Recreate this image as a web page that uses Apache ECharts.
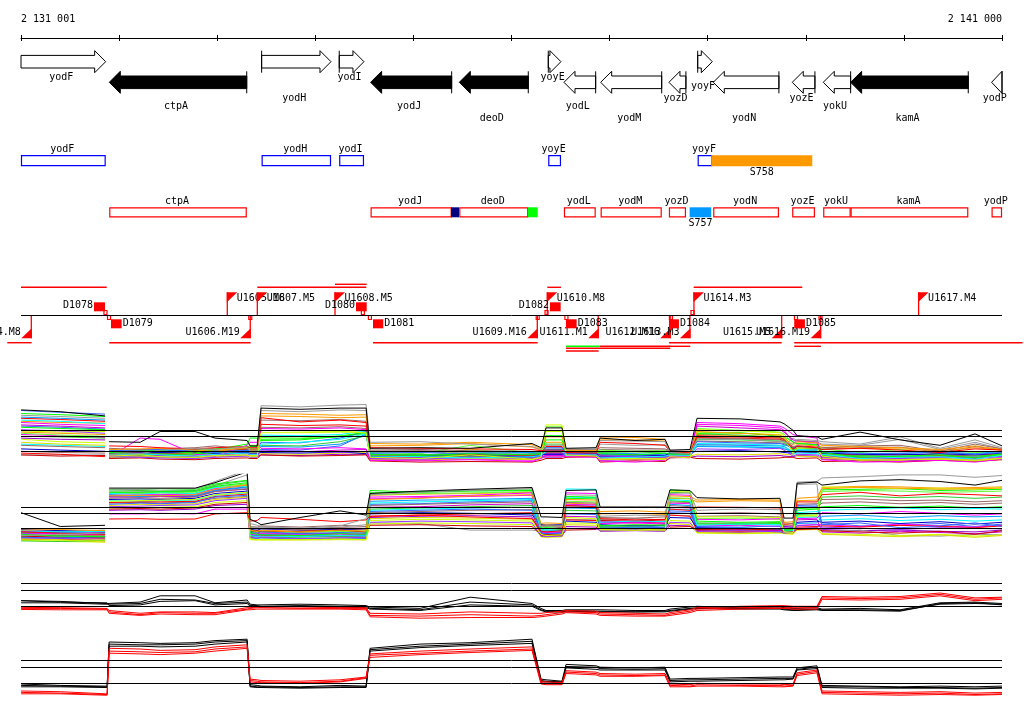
<!DOCTYPE html>
<html><head><meta charset="utf-8">
<script src="https://cdn.jsdelivr.net/npm/echarts@6/dist/echarts.min.js"></script>
<style>html,body{margin:0;padding:0;background:#fff}#c{width:1024px;height:714px}</style>
</head><body><div id="c"></div>
<script>
// ================= DATA =================
const regionStart = 2131000, regionEnd = 2141000, rulerStep = 1000;
const rulerLabels = ['2 131 001', '2 141 000'];

// genes (annotation)
const geneNames  = ['yodF','ctpA','yodH','yodI','yodJ','deoD','yoyE','yodL','yodM','yozD','yoyF','yodN','yozE','yokU','kamA','yodP'];
const geneStart  = [2131000,2131900,2133453,2134244,2134564,2135468,2136375,2136535,2136909,2137605,2137898,2138057,2138862,2139178,2139457,2140894];
const geneEnd    = [2131863,2133301,2134160,2134496,2135390,2136171,2136504,2136858,2137531,2137778,2138047,2138726,2139093,2139457,2140656,2141000];
const geneStrand = [1,-1,1,1,-1,-1,1,-1,-1,-1,1,-1,-1,-1,-1,-1];
const geneClass  = ['o','e','o','o','e','e','o','o','o','o','o','o','o','o','e','o'];

// other features in the box track
const featNames  = ['S758','S757','',''];
const featStart  = [2138036,2137816,2135383,2136168];
const featEnd    = [2139066,2138036,2135465,2136267];
const featStrand = [1,-1,-1,-1];

// probe track
const flagNames = ['U1605.M8','U1607.M5','U1608.M5','U1610.M8','U1614.M3','U1617.M4','U1604.M8','U1606.M19','U1609.M16','U1611.M1','U1612.M16','U1613.M3','U1615.M5','U1616.M19'];
const flagPos   = [2133103,2133409,2134201,2136365,2137860,2140150,2131105,2133337,2136263,2136884,2137618,2137819,2138754,2139151];
const flagSide  = [1,1,1,1,1,1,-1,-1,-1,-1,-1,-1,-1,-1];

const dNames = ['D1078','D1079','D1080','D1081','D1082','D1083','D1084','D1085'];
const dStart = [2131744,2131917,2134415,2134588,2136392,2136555,2137605,2138882];
const dEnd   = [2131856,2132026,2134524,2134693,2136501,2136664,2137707,2138991];
const dSide  = [1,-1,1,-1,1,-1,-1,-1];

const linkPos  = [2131861,2131897,2133337,2134485,2134557,2136267,2136357,2136560,2137625,2137845,2138900,2139150];
const linkSide = [1,-1,-1,1,-1,-1,1,-1,-1,1,-1,-1];

const segStart = [2131000,2133409,2136365,2137857,2134201,2130860,2131900,2134588,2137605,2138882,2136555,2136902,2138882,2136555,2136555,2137605];
const segEnd   = [2131874,2134520,2136504,2138964,2134524,2131109,2133341,2136267,2138754,2141210,2136902,2137618,2139154,2137618,2136888,2137822];
const segSide  = [1,1,1,1,1,-1,-1,-1,-1,-1,-1,-1,-1,-1,-1,-1];
const segLevel = [0,0,0,0,1,0,0,0,0,0,1,1,1,2,3,1];
const segKind  = ['r','r','r','r','r','r','r','r','r','r','g','r','r','r','r','r'];

// expression profiles: positions
const profilePos = [2131001,2131400,2131857,2131878,2131898,2132214,2132418,2132775,2132978,2133305,2133335,2133407,2133447,2133845,2134253,2134518,2134558,2135068,2135578,2136209,2136301,2136352,2136515,2136556,2136862,2136903,2137260,2137565,2137616,2137820,2137891,2138330,2138737,2138778,2138870,2138911,2139114,2139165,2139553,2139961,2140368,2140725,2141000];

// top strand, individual hybridisations
const topStrand = [
[6.9,6.6,5.9,null,1.6,1.5,3.3,3.3,2.2,1.8,0.9,0.9,7.2,7.0,7.2,7.2,0.5,0.6,0.5,1.3,0.6,3.9,3.9,0.5,0.6,2.2,1.8,2.0,0.2,0.3,5.5,5.4,4.9,4.6,3.5,2.6,2.4,2.0,3.2,1.9,1.0,2.9,0.9],
[6.0,5.8,5.5,null,-0.5,-0.4,0.2,0.5,0.3,0.8,0.0,0.0,7.6,7.4,7.7,7.8,1.5,1.6,1.2,0.8,0.3,1.0,1.0,0.4,0.4,1.8,1.7,1.6,-0.2,-0.4,1.9,2.0,1.6,1.6,1.2,2.0,1.8,1.6,1.2,2.4,0.5,1.9,0.6],
[-0.3,-0.5,-0.9,null,0.9,0.8,0.6,0.4,0.6,0.8,0.6,0.6,5.6,4.9,5.2,4.8,0.6,0.5,0.4,0.3,0.1,0.2,0.2,-0.2,-0.3,1.5,1.3,1.0,0.0,-0.3,2.6,2.4,2.2,2.0,0.4,0.8,0.6,0.3,0.5,0.2,-0.2,0.4,0.2],
[3.2,3.0,2.8,null,0.3,0.4,0.5,0.2,0.0,0.6,0.2,0.2,6.3,6.2,6.0,6.1,1.3,1.2,1.5,1.1,0.4,2.4,2.4,0.2,0.1,2.4,2.3,2.0,-0.1,-0.2,3.3,3.0,2.7,2.3,1.0,1.6,1.4,1.0,0.8,0.6,0.3,0.9,0.3],
[2.0,1.6,1.4,null,-0.8,-0.6,-0.9,-1.0,-0.7,-0.6,-0.9,-0.9,3.1,3.1,3.2,3.1,-1.0,-1.2,-0.6,-1.3,-1.0,4.4,4.4,-0.6,-0.8,-1.3,-1.2,-1.4,-0.9,-1.1,3.6,3.4,3.1,2.6,-0.4,0.5,0.6,-0.8,-1.5,-1.4,-1.3,-1.6,-1.2],
[4.0,3.8,3.6,null,-0.2,0.0,0.1,-0.3,0.3,1.2,2.2,2.2,1.8,1.9,2.5,3.2,-0.5,-0.7,-0.4,-0.6,-0.3,1.9,1.9,-0.1,0.0,-0.4,-0.6,-0.3,-0.5,-0.4,3.0,3.1,2.5,2.4,1.6,1.3,1.1,-0.2,-1.0,-0.8,-0.6,-1.1,-0.4],
[5.2,5.0,4.6,null,-0.6,-0.4,-0.6,-0.8,-0.5,-0.3,-0.5,-0.5,1.2,1.5,2.0,2.9,-0.8,-0.9,-1.1,-0.9,-0.7,0.0,0.0,-0.7,-0.6,-1.1,-1.0,-0.8,-0.6,-0.7,1.3,1.2,1.0,0.9,-0.2,0.3,0.2,-0.5,-1.2,-1.0,-0.9,-1.3,-0.7],
[6.8,6.5,6.2,null,0.1,0.2,0.3,0.0,-0.2,0.2,0.0,0.0,1.5,1.4,2.2,3.3,-0.3,-0.2,-0.4,-0.5,-0.2,0.6,0.6,-0.4,-0.3,-0.5,-0.7,-0.4,-0.3,-0.2,1.6,1.4,1.3,1.1,0.6,0.9,0.5,0.0,-0.4,-0.3,-0.2,-0.5,-0.2],
[4.8,4.5,4.3,null,-1.0,2.2,2.0,-0.5,-0.8,1.0,1.5,1.5,0.5,0.4,0.6,0.4,-1.5,-1.6,-1.4,-1.7,-1.2,-0.8,-0.8,-0.9,-1.0,-1.6,-1.8,-1.5,-1.0,-1.1,4.8,4.6,4.2,3.9,2.8,2.6,2.2,-1.4,-1.8,-1.7,-1.5,-1.8,-1.3],
[1.0,0.8,0.6,null,0.5,0.3,0.4,0.6,0.9,0.4,0.3,0.3,5.2,5.1,5.3,5.0,0.2,0.3,0.1,0.0,-0.1,-0.2,-0.2,0.3,0.2,0.6,0.5,0.4,0.1,0.0,2.2,2.1,1.9,1.7,0.8,0.4,0.3,0.6,0.9,1.0,0.0,1.2,0.4],
[3.6,3.4,3.0,null,-0.9,-1.0,-1.1,-1.2,-1.0,-0.8,-1.0,-1.0,0.2,0.0,-0.2,0.0,-1.2,-1.3,-1.0,-1.1,-0.9,-1.0,-1.0,-0.5,-0.6,-0.8,-0.9,-1.0,-0.8,-0.7,0.4,0.3,0.5,0.2,-0.8,-0.5,-0.6,-1.0,-1.1,-1.2,-1.0,-1.0,-0.9],
[2.5,2.4,2.2,null,-0.3,-0.5,-0.4,-0.6,-0.2,0.0,0.4,0.4,1.0,0.9,1.6,2.6,-0.6,-0.5,-0.8,-0.4,-0.5,1.2,1.2,0.0,-0.2,-0.2,-0.1,-0.3,-0.4,-0.5,2.9,2.7,2.3,2.0,0.3,0.0,-0.1,-0.6,-0.7,-0.9,-0.8,-0.8,-0.5],
[-0.6,-0.8,-0.7,null,-1.2,-1.1,-1.3,-1.4,-1.2,-1.1,-1.2,-1.2,-0.6,-0.8,-0.7,-0.6,-1.6,-1.8,-1.7,-1.8,-1.5,-1.2,-1.2,-1.0,-0.9,-1.8,-1.6,-1.7,-1.1,-1.0,-1.2,-1.3,-1.1,-1.0,-1.0,-1.2,-1.1,-1.7,-1.6,-1.8,-1.5,-1.7,-1.4],
[0.4,0.2,0.0,null,-0.4,-0.3,-0.2,-0.1,-0.4,-0.2,-0.3,-0.3,-0.2,-0.3,-0.1,-0.4,-0.9,-0.8,-0.7,-0.9,-0.6,-0.5,-0.5,-0.3,-0.4,-0.9,-0.8,-0.7,-0.3,-0.2,0.0,0.1,-0.1,-0.2,-0.3,-0.1,-0.2,-0.3,-0.5,-0.6,-0.4,-0.6,-0.3],
[5.7,5.5,5.2,null,0.0,-0.1,0.1,0.2,0.1,0.0,0.1,0.1,0.8,0.7,1.2,2.7,-0.4,-0.6,-0.3,-0.2,-0.4,0.3,0.3,-0.2,-0.1,-0.3,-0.4,-0.6,-0.2,-0.3,0.8,0.7,0.6,0.4,0.0,0.2,0.0,-0.2,-0.3,-0.4,-0.1,-0.4,0.0],
[1.5,1.2,1.0,null,-1.1,-0.9,-1.0,-1.1,-0.9,-0.7,-0.7,-0.7,-0.4,-0.5,-0.3,-0.2,-1.4,-1.5,-1.2,-1.4,-1.1,-0.9,-0.9,-0.8,-0.9,-1.4,-1.3,-1.2,-0.7,-0.8,-0.5,-0.6,-0.4,-0.5,-0.6,-0.8,-0.9,-1.2,-1.4,-1.5,-1.2,-1.5,-1.1],
[4.4,4.2,3.9,null,-0.7,-0.8,-0.7,-0.9,-0.6,-0.4,-0.6,-0.6,0.0,-0.1,0.2,0.3,-1.1,-1.0,-0.9,-1.0,-0.8,-0.4,-0.4,-0.5,-0.7,-1.0,-1.1,-0.9,-0.6,-0.5,4.2,3.9,3.6,3.2,1.9,1.7,1.5,-0.9,-1.0,-1.1,-0.9,-1.2,-0.8],
[3.0,2.7,2.5,null,-0.1,0.1,0.0,0.1,0.4,0.6,1.0,1.0,2.3,2.2,2.6,3.0,-0.2,-0.4,1.0,-0.3,-0.1,4.1,4.1,0.1,0.0,0.2,0.0,0.1,-0.2,-0.3,3.8,3.5,3.2,2.9,1.3,1.4,1.0,0.4,-0.2,0.3,-0.5,-0.2,-0.1],
[5.5,5.3,5.0,null,-0.3,-0.2,-0.4,-0.2,0.0,0.3,0.1,0.1,4.5,4.3,4.4,4.2,-0.7,-0.6,-0.5,-0.7,-0.4,0.8,0.8,-0.3,-0.4,-0.6,-0.5,-0.7,-0.4,-0.5,2.3,2.2,2.0,1.8,0.5,0.9,0.7,-0.4,-0.6,-0.5,-0.7,-0.6,-0.5],
[6.3,6.1,5.8,null,-0.5,-0.7,-0.6,-0.4,-0.3,0.5,0.8,0.8,2.0,2.1,2.4,3.0,-0.9,-1.0,-0.8,-1.0,-0.8,2.6,2.6,-0.4,-0.5,-0.9,-0.8,-1.1,-0.5,-0.6,2.0,1.9,1.7,1.5,0.2,0.6,0.4,-0.7,-0.9,-1.1,-0.8,-1.0,-0.6],
[2.8,2.6,2.3,null,-0.6,-0.3,-0.5,-0.7,-0.4,-0.2,-0.4,-0.4,3.8,3.7,3.9,3.6,-1.3,-1.4,-1.3,-1.5,-1.1,-0.6,-0.6,-0.8,-0.7,-1.2,-1.4,-1.3,-0.8,-0.9,4.5,4.3,3.9,3.5,1.5,1.3,1.2,-1.2,-1.3,-1.4,-1.2,-1.5,-1.0],
[1.2,1.0,0.8,null,-0.9,-0.8,-0.8,-1.0,-0.8,-0.6,-0.8,-0.8,2.7,2.6,2.8,3.4,-1.0,-1.1,-1.2,-1.0,-0.9,-0.3,-0.3,-0.9,-0.8,-1.0,-1.2,-0.9,-0.7,-0.8,0.9,0.8,0.7,0.6,-0.5,-0.3,-0.4,-0.8,-1.1,-0.9,-1.1,-1.2,-0.8],
[4.2,4.0,3.7,null,-0.2,-0.1,-0.3,-0.2,-0.1,0.1,0.0,0.0,0.3,0.2,0.9,2.9,-0.5,-0.7,-0.6,-0.8,-0.4,0.1,0.1,-0.2,-0.3,-0.7,-0.6,-0.8,-0.4,-0.3,1.1,1.0,0.9,0.8,-0.1,0.1,0.0,-0.4,-0.7,-0.6,-0.5,-0.8,-0.4],
[5.0,4.8,4.7,null,0.2,0.1,0.3,0.4,0.2,0.5,0.4,0.4,5.9,5.8,5.6,5.7,0.9,1.0,1.3,0.7,0.2,1.5,1.5,0.0,-0.1,1.9,1.9,1.7,-0.3,-0.3,2.8,2.6,2.4,2.1,0.7,1.1,0.9,0.7,0.5,0.4,0.1,0.6,0.2],
[3.4,3.2,3.3,null,-0.4,-0.3,-0.2,-0.5,-0.3,-0.1,-0.2,-0.2,3.5,3.4,3.3,3.4,-0.8,-1.0,0.4,-0.9,-0.7,3.3,3.3,-0.3,-0.5,-0.9,-0.7,-0.8,-0.6,-0.6,3.2,3.0,2.8,2.4,0.0,0.3,0.4,-1.0,-1.3,-1.2,-1.4,-1.4,-1.3],
[-0.6,-0.6,-0.6,null,-0.7,-0.6,-0.5,-0.6,-0.5,-0.3,-0.4,-0.4,6.8,6.6,6.9,6.8,-0.2,-0.1,-0.3,-0.2,-0.1,0.4,0.4,0.2,0.3,1.2,1.0,1.1,-0.1,-0.2,1.0,1.2,1.0,0.9,2.2,1.8,1.6,1.2,1.0,2.0,0.3,1.5,0.4],
[0.0,-0.2,-0.3,null,0.2,0.0,0.1,0.3,0.5,0.2,0.1,0.1,4.0,3.9,4.1,3.8,0.0,0.1,-0.1,-0.2,-0.3,-0.4,-0.4,0.1,0.0,0.3,0.2,0.2,0.0,-0.1,1.7,1.6,1.4,1.3,0.6,0.2,0.1,0.4,0.6,0.7,-0.2,0.8,0.2],
[2.2,2.0,1.9,null,-1.0,-0.9,-1.0,-1.1,-0.9,-0.7,-0.9,-0.9,-0.6,-0.7,-0.5,-0.5,-1.3,-1.5,-1.1,-1.2,-1.0,-0.7,-0.7,-0.6,-0.8,-1.5,-1.4,-1.3,-0.9,-1.0,-0.8,-0.9,-0.7,-0.8,-0.9,-0.7,-0.8,-1.3,-1.5,-1.6,-1.4,-1.6,-1.2]
];

// bottom strand, individual hybridisations
const bottomStrand = [
[2.6,0.3,0.5,null,6.7,6.7,6.7,6.7,7.6,9.4,1.5,1.0,0.6,1.8,2.9,2.2,5.8,6.2,6.5,6.8,1.9,1.9,1.8,6.3,6.4,3.55,3.55,3.55,6.4,6.3,5.1,4.9,5.0,1.7,1.7,7.5,7.7,7.2,7.9,8.1,7.8,7.2,8.0],
[-1.2,-1.0,-0.8,null,6.4,6.5,6.6,6.6,7.8,9.7,0.8,0.5,0.3,0.0,0.4,1.6,5.6,6.0,6.3,6.6,0.2,0.4,0.3,5.6,5.5,2.0,2.2,2.1,5.8,5.9,3.0,3.2,3.1,0.5,0.4,7.7,7.8,8.4,8.6,8.9,8.9,8.5,8.8],
[-0.6,-0.8,-1.0,null,1.55,1.6,1.5,1.55,2.4,2.6,1.2,1.3,1.8,1.5,1.1,1.4,2.0,2.2,1.9,1.6,-0.5,-0.6,-0.4,3.8,3.6,1.6,1.4,1.5,3.2,3.0,3.55,3.5,3.4,0.6,0.5,4.4,4.4,5.6,6.0,5.4,5.8,5.6,5.4],
[-0.3,-0.2,-0.4,null,5.4,5.5,5.4,5.6,6.5,7.2,-0.3,-0.5,-0.4,-0.6,-0.3,-0.5,4.8,5.0,5.4,5.6,0.8,0.9,0.8,4.8,4.7,2.4,2.5,2.3,5.4,5.3,4.7,4.8,4.7,1.0,1.1,5.0,5.2,6.6,6.8,6.7,6.5,6.6,6.7],
[-1.9,-2.0,-1.95,null,4.5,4.6,4.7,4.8,5.6,6.0,-1.8,-1.9,-1.95,-1.9,-1.8,-1.9,1.3,1.5,1.4,1.2,-1.0,-1.2,-1.1,1.8,1.6,-0.2,-0.1,-0.3,6.2,6.0,1.9,1.9,1.8,-0.6,-0.7,2.0,2.2,6.9,6.8,6.6,6.7,6.5,6.8],
[-1.0,-1.3,-1.4,null,6.0,6.0,6.1,6.1,7.0,7.6,-0.8,-1.0,-1.1,-1.2,-0.9,-1.0,6.3,6.0,6.2,6.3,0.0,0.1,-0.1,5.0,4.9,0.4,0.6,0.5,6.4,6.2,1.2,1.0,1.1,-0.3,-0.2,3.0,3.2,6.4,6.5,6.6,6.3,6.4,6.5],
[-0.4,-0.6,-0.5,null,5.8,5.7,5.9,5.8,6.8,7.0,-1.2,-1.4,-1.3,-1.4,-1.2,-1.3,4.2,4.4,4.6,4.8,-0.3,-0.2,-0.4,6.55,6.5,1.0,1.2,1.1,4.8,4.6,0.5,0.7,0.6,-0.5,-0.4,2.6,2.8,3.0,3.2,3.4,3.1,3.3,3.2],
[-1.5,-1.6,-1.4,null,4.0,4.2,4.1,4.3,5.2,5.5,-0.7,-0.8,-0.6,-0.9,-0.7,-0.8,2.8,3.0,3.2,3.0,-0.8,-0.9,-0.8,2.4,2.3,0.0,0.2,0.1,2.6,2.5,0.3,0.2,0.4,-0.1,0.0,3.55,3.6,0.6,0.9,0.1,0.4,0.9,0.3],
[-0.8,-0.9,-1.1,null,2.4,2.4,2.5,2.4,3.2,3.2,-1.0,-1.1,-0.9,-1.0,-1.1,-0.9,5.2,5.3,5.5,5.9,-0.6,-0.7,-0.6,5.9,5.8,0.8,0.9,0.7,5.6,5.5,1.5,1.4,1.6,0.2,0.3,1.6,1.7,2.6,2.4,2.8,2.5,2.2,2.4],
[-1.1,-1.2,-1.3,null,5.0,5.1,5.0,5.2,6.1,6.6,0.1,-0.1,0.0,-0.2,0.1,0.0,3.8,4.0,4.2,4.4,0.4,0.5,0.3,4.3,4.2,1.8,1.7,1.9,4.4,4.3,2.5,2.6,2.4,0.9,0.8,4.0,4.1,4.8,4.9,4.6,4.7,4.4,4.6],
[-1.6,-1.7,-1.8,null,3.6,3.7,3.8,3.9,4.6,5.0,-1.5,-1.6,-1.5,-1.7,-1.6,-1.5,1.0,1.2,1.1,0.9,-1.3,-1.4,-1.3,0.0,-0.1,-0.3,-0.2,-0.3,1.0,0.9,-0.5,-0.4,-0.6,-0.8,-0.7,0.4,0.6,0.2,0.0,-0.2,0.1,0.0,-0.1],
[-2.1,-2.2,-2.0,null,6.2,6.3,6.2,6.3,7.2,7.9,-1.4,-1.5,-1.6,-1.5,-1.4,-1.5,3.2,3.4,3.6,3.8,-0.2,-0.1,-0.2,3.0,2.9,0.2,0.3,0.1,6.0,5.9,0.9,0.8,1.0,-0.2,-0.3,2.3,2.4,5.2,5.4,5.1,5.3,5.0,5.2],
[-1.3,-1.5,-1.6,null,3.2,3.3,3.2,3.4,4.0,4.3,-0.5,-0.4,-0.6,-0.5,-0.3,-0.6,0.5,0.6,0.4,0.3,-1.1,-1.0,-1.2,-0.3,-0.2,1.3,1.2,1.4,0.2,0.3,-0.2,-0.3,-0.1,-0.6,-0.5,-0.2,-0.1,-0.4,-0.6,-0.8,-0.5,-1.0,-0.4],
[-0.2,-0.4,-0.6,null,4.8,4.9,4.8,5.0,5.8,6.2,-0.2,-0.3,-0.1,-0.3,-0.2,-0.1,2.4,2.6,2.5,2.2,0.6,0.5,0.6,1.2,1.0,0.6,0.4,0.5,1.8,1.7,0.1,0.0,-0.1,0.3,0.2,1.0,1.2,1.0,1.2,0.8,1.1,0.7,1.0],
[-0.9,-0.7,-0.9,null,5.6,5.3,5.5,5.4,6.3,6.8,-1.1,-1.2,-1.0,-1.1,-1.3,-1.2,4.5,4.7,4.8,5.0,-0.4,-0.5,-0.3,3.4,3.3,-0.1,0.0,0.1,4.0,3.8,0.0,0.1,-0.2,-0.4,-0.3,0.8,0.9,2.0,2.2,1.8,2.1,1.9,2.0],
[-1.7,-1.9,-2.3,null,3.8,4.0,3.9,4.1,4.8,5.2,-1.9,-1.95,-1.9,-1.95,-1.9,-1.95,1.6,1.8,1.7,1.5,-1.4,-1.45,-1.4,0.6,0.5,-0.2,-0.3,-0.2,0.8,0.6,-0.7,-0.8,-0.7,-0.8,-0.9,-0.3,-0.2,-1.0,-1.2,-1.4,-1.1,-1.5,-1.2],
[-0.5,-0.7,-0.8,null,5.2,5.2,5.3,5.3,6.2,6.5,-0.9,-0.8,-1.0,-0.8,-0.9,-1.0,3.5,3.6,3.9,4.1,-0.7,-0.8,-0.7,2.0,1.9,0.9,1.0,0.8,3.5,3.4,-0.3,-0.2,-0.4,-0.1,-0.2,1.4,1.5,-0.6,-0.8,-0.5,-0.7,-0.9,-0.6],
[-1.4,-1.1,-1.2,null,5.9,5.9,6.0,5.9,6.9,7.4,-0.6,-0.7,-0.8,-0.7,-0.5,-0.7,5.6,5.8,5.9,6.1,0.3,0.2,0.4,4.5,4.4,0.5,0.4,0.6,5.1,5.0,1.6,1.7,1.5,0.0,0.1,2.1,2.0,6.1,6.3,6.2,6.0,6.1,6.2],
[-1.8,-1.9,-2.0,null,4.3,4.4,4.4,4.5,5.3,5.7,-1.3,-1.4,-1.2,-1.3,-1.4,-1.3,2.0,2.2,2.4,2.6,-1.2,-1.3,-1.2,1.4,1.3,1.0,0.9,1.1,2.2,2.0,-0.4,-0.5,-0.4,-0.5,-0.6,0.2,0.3,0.4,0.2,0.5,0.3,0.1,0.4],
[-0.7,-0.9,-1.0,null,6.5,6.5,6.6,6.5,7.4,8.0,-0.4,-0.6,-0.5,-0.6,-0.4,-0.5,5.9,6.1,6.3,6.4,-0.9,-1.0,-0.9,5.3,5.2,0.1,0.0,0.2,4.6,4.4,0.7,0.6,0.8,-0.3,-0.4,3.3,3.4,3.6,3.8,3.5,3.7,3.4,3.6],
[-1.0,-1.2,-1.2,null,5.5,5.6,5.6,5.7,6.6,7.1,-1.3,-1.2,-1.4,-1.3,-1.2,-1.4,4.9,5.1,5.3,5.5,-1.0,-1.1,-1.0,4.0,3.9,1.1,1.2,1.0,4.2,4.1,0.4,0.5,0.3,-0.6,-0.5,0.5,0.6,0.6,0.3,0.7,0.4,0.2,0.5],
[-1.2,-1.3,-1.5,null,4.6,4.5,4.6,4.7,5.5,5.9,-0.9,-1.0,-1.1,-1.0,-0.9,-1.1,3.0,3.2,3.4,3.5,-1.1,-1.2,-1.1,5.2,5.1,0.0,0.1,-0.1,3.2,3.1,-0.4,-0.3,-0.5,-0.7,-0.6,1.8,1.9,1.4,1.6,1.3,1.5,1.2,1.4],
[-0.5,-0.4,-0.7,null,5.3,5.4,5.3,5.5,6.4,6.9,-1.6,-1.7,-1.6,-1.8,-1.6,-1.7,4.0,4.1,4.4,4.6,-0.9,-0.8,-1.0,3.8,3.7,0.3,0.4,0.2,2.9,2.8,-0.1,0.0,-0.2,-0.2,-0.1,3.8,3.9,0.9,0.4,0.5,0.8,0.3,0.7],
[-1.4,-1.6,-1.7,null,5.7,5.8,5.7,5.8,6.7,7.3,-0.2,-0.4,-0.3,-0.5,-0.1,-0.3,5.5,5.7,5.8,6.0,0.5,0.6,0.5,4.2,4.0,2.8,2.9,2.7,5.0,4.9,4.4,4.6,4.5,0.7,0.8,4.6,4.7,6.8,7.0,6.9,6.7,6.8,6.9],
[-2.0,-2.2,-2.3,null,3.4,3.5,3.5,3.6,4.3,4.6,-1.7,-1.8,-1.9,-1.8,-1.7,-1.8,0.7,0.9,0.8,0.6,-1.4,-1.5,-1.4,0.9,0.8,-0.4,-0.3,-0.4,1.3,1.2,-0.8,-0.9,-0.8,-0.9,-1.0,-0.1,0.0,-0.9,-1.0,-1.2,-1.0,-1.3,-1.1],
[-0.6,-0.5,-0.3,null,6.0,6.1,6.2,6.2,7.1,8.9,0.3,0.1,0.2,-0.1,0.2,0.6,0.9,0.8,-0.3,-0.3,-0.5,-0.4,-0.5,1.5,1.4,-0.4,-0.3,-0.4,2.2,2.1,0.8,0.9,0.7,0.1,0.0,7.3,7.4,-0.5,-0.3,-1.2,-1.3,-1.0,-1.1],
[-1.5,-1.4,-1.6,null,4.2,4.3,4.2,4.4,5.0,5.3,0.3,0.2,0.4,0.2,0.5,0.3,2.6,2.8,3.0,3.1,0.2,0.3,0.1,3.6,3.5,1.5,1.6,1.4,3.8,3.6,2.0,2.1,1.9,0.5,0.4,3.4,3.5,4.2,4.4,4.1,4.3,4.0,4.2],
[-1.9,-1.8,-2.1,null,3.0,3.1,3.0,3.2,3.8,4.0,-1.2,-1.3,-1.2,-1.4,-1.3,-1.2,1.8,2.0,2.1,1.9,-1.2,-1.3,-1.2,0.3,0.2,-0.5,-0.4,-0.5,0.5,0.4,-0.6,-0.7,-0.5,-0.7,-0.8,0.0,0.1,-0.2,-0.4,-0.3,-0.5,-0.6,-0.3]
];

// summary profiles (first three: group 1, last three: group 2)
const summaryTop = [
[0.8,0.7,0.4,0.4,0.3,0.6,1.5,1.5,0.5,0.9,0.3,0.2,0.2,0.3,0.2,0.1,-0.1,-0.3,1.3,0.4,-0.3,-0.6,-0.6,-0.5,-0.5,-0.5,-0.6,-0.6,-0.4,-0.1,0.0,-0.2,-0.1,-0.2,-0.3,-0.3,-0.2,-0.4,-0.3,-0.5,0.5,0.6,0.4],
[0.5,0.5,0.3,0.3,0.2,0.4,1.0,0.9,0.4,0.6,0.1,0.1,0.0,0.1,0.0,0.0,-0.3,-0.5,0.6,0.2,-0.5,-0.7,-0.8,-0.6,-0.7,-0.7,-0.8,-0.7,-0.6,-0.3,-0.2,-0.3,-0.3,-0.4,-0.5,-0.5,-0.4,-0.5,-0.5,-0.6,0.3,0.4,0.3],
[0.8,0.6,0.5,0.5,0.1,0.2,0.7,0.8,0.2,0.4,0.0,0.0,-0.1,0.0,-0.1,-0.2,-0.4,-0.6,0.2,0.0,-0.6,-0.8,-0.8,-0.7,-0.8,-0.8,-0.8,-0.8,-0.7,-0.4,-0.3,-0.4,-0.4,-0.5,-0.6,-0.6,-0.5,-0.6,-0.6,-0.7,0.4,0.5,0.2],
[-0.15,-0.2,-0.3,-0.3,-0.6,-1.0,-0.8,-0.8,-0.9,-0.2,-0.2,-0.1,-0.1,-0.1,-0.2,-0.2,-1.0,-1.1,-0.8,-1.0,-1.0,-0.9,-0.7,-0.6,-0.7,-0.9,-1.0,-1.1,-0.9,-0.5,-0.2,0.0,0.1,0.1,0.0,0.0,0.0,1.4,1.3,1.4,1.9,1.2,1.3],
[-0.3,-0.3,-0.4,-0.4,-0.8,-1.2,-0.9,-1.0,-1.0,-0.4,-0.3,-0.2,-0.2,-0.3,-0.3,-0.3,-1.3,-1.4,-1.2,-1.4,-1.3,-1.2,-0.9,-0.8,-0.9,-1.1,-1.2,-1.3,-1.1,-0.7,-0.4,-0.2,-0.1,-0.1,-0.2,-0.2,-0.2,1.2,1.1,1.2,1.7,1.0,1.2],
[-0.45,-0.5,-0.5,-0.5,-1.0,-1.3,-1.1,-1.2,-1.2,-0.5,-0.5,-0.4,-0.4,-0.4,-0.4,-0.5,-1.5,-1.7,-1.6,-1.6,-1.5,-1.4,-1.1,-0.9,-1.1,-1.3,-1.4,-1.4,-1.3,-0.9,-0.6,-0.4,-0.3,-0.3,-0.4,-0.4,-0.4,1.0,0.9,1.0,1.5,0.8,1.0]
];
const summaryBottom = [
[-0.1,-0.3,-0.4,-0.4,5.9,5.8,5.7,5.8,6.1,6.3,-0.2,-0.3,-0.4,-0.5,-0.3,-0.4,5.0,5.6,5.8,6.3,0.6,0.5,0.3,2.7,2.5,2.3,2.2,2.3,0.6,0.7,0.7,0.8,0.9,0.9,0.9,2.2,2.5,-0.3,-0.4,-0.5,-0.4,-0.5,-0.4],
[-0.3,-0.4,-0.5,-0.5,5.6,5.5,5.5,5.6,5.9,6.1,-0.4,-0.5,-0.5,-0.6,-0.5,-0.5,4.8,5.3,5.6,6.0,0.4,0.3,0.2,2.4,2.3,2.1,2.0,2.1,0.4,0.5,0.5,0.6,0.7,0.7,0.7,2.0,2.3,-0.5,-0.5,-0.6,-0.6,-0.7,-0.6],
[-0.5,-0.5,-0.6,-0.6,5.3,5.3,5.2,5.3,5.6,5.9,-0.5,-0.6,-0.6,-0.7,-0.6,-0.6,4.6,5.1,5.4,5.7,0.2,0.2,0.1,2.2,2.0,1.9,1.9,1.9,0.2,0.3,0.3,0.4,0.5,0.5,0.6,1.9,2.1,-0.6,-0.7,-0.7,-0.7,-0.8,-0.7],
[-1.1,-1.2,-1.5,-1.5,5.0,4.9,4.7,4.8,5.2,5.5,0.6,0.5,0.4,0.3,0.5,0.9,4.2,4.6,4.9,5.2,0.3,0.2,0.1,1.8,1.6,1.4,1.3,1.4,-0.1,-0.2,0.0,-0.1,-0.1,-0.2,-0.1,1.5,1.9,-1.1,-1.2,-1.3,-1.2,-1.4,-1.3],
[-1.3,-1.4,-1.6,-1.6,4.6,4.5,4.4,4.5,4.9,5.2,0.4,0.3,0.2,0.1,0.3,0.8,4.0,4.3,4.6,4.9,0.1,0.0,-0.1,1.6,1.4,1.2,1.1,1.2,-0.3,-0.4,-0.2,-0.3,-0.3,-0.4,-0.3,1.3,1.7,-1.3,-1.4,-1.5,-1.4,-1.6,-1.5],
[-1.5,-1.5,-1.7,-1.7,4.3,4.2,4.1,4.3,4.6,5.0,0.2,0.1,0.1,0.0,0.2,0.7,3.7,4.1,4.4,4.7,-0.1,-0.2,-0.2,1.4,1.2,1.0,1.0,1.1,-0.5,-0.5,-0.4,-0.4,-0.5,-0.5,-0.4,1.1,1.5,-1.5,-1.6,-1.7,-1.6,-1.7,-1.6]
];

const refLinesStrand  = [0, 2.5, 3.5];
const refLinesSummary = [0, 2.3, 3.3];

// ================= STYLE / LAYOUT =================
const FONT = '10px "DejaVu Sans Mono", monospace';
const sampleColors = ['#000000','#999999','#ff0000','#ff9900','#ccff00','#00ff00','#00ffff','#3366ff','#ff00ff','#996666','#9933ff','#33cc33','#cc0000','#0000cc','#0099ff','#dddd00','#cc00cc','#66ff33',
                      '#ff0000','#00ff00','#ff00ff','#00ffff','#3366ff','#ff9900','#ccff00','#999999','#996666','#9900cc'];
const summaryColors = ['#000000','#000000','#000000','#ff0000','#ff0000','#ff0000'];
const featColors = ['#ff9900','#0099ff','#000080','#00ff00'];
const segColors = {r:'#ff0000', g:'#00ff00'};
const geneLabelLevel = [1,2,3,1,2,3,1,2,3,1,2,3,1,2,3,1];
const labelOffset = [0, 15.7, 24.5, 36.3];
const segOffAbove = [27.7, 30.7], segOffBelow = [27.7, 31.3, 33.3, 36];
const L = 21, R = 22;

function txt(t, x, y, align) {
  return {type:'text', silent:true, style:{text:t, x:x, y:y, align:align||'center', verticalAlign:'middle', font:FONT, fill:'#000'}};
}

function geneItem(params, api) {
  const i = params.dataIndex, lane = api.value(2);
  const p0 = api.coord([api.value(0), lane]), p1 = api.coord([api.value(1), lane]);
  const x0 = p0[0], x1 = p1[0], cy = p0[1];
  const bh = 6.3, hh = 11, hl = Math.min(11, x1 - x0);
  const fwd = geneStrand[i] > 0;
  let pts;
  if (fwd) pts = [[x0,cy-bh],[x1-hl,cy-bh],[x1-hl,cy-hh],[x1,cy],[x1-hl,cy+hh],[x1-hl,cy+bh],[x0,cy+bh]];
  else pts = [[x1,cy-bh],[x0+hl,cy-bh],[x0+hl,cy-hh],[x0,cy],[x0+hl,cy+hh],[x0+hl,cy+bh],[x1,cy+bh]];
  const filled = geneClass[i] === 'e';
  const ch = [{type:'polygon', shape:{points:pts}, style:{fill: filled ? '#000' : '#fff', stroke:'#000', lineWidth:1}}];
  const hasBar = fwd ? api.value(0) > regionStart : true;
  if (hasBar) {
    const bx = fwd ? x0 : x1;
    ch.push({type:'line', shape:{x1:bx, y1:cy-hh, x2:bx, y2:cy+hh}, style:{stroke:'#000', lineWidth:1}});
  }
  ch.push(txt(geneNames[i], (x0+x1)/2 - 2, cy + labelOffset[geneLabelLevel[i]]));
  return {type:'group', children:ch};
}

function boxItem(params, api) {
  const i = params.dataIndex, lane = api.value(2);
  const p0 = api.coord([api.value(0), lane]), p1 = api.coord([api.value(1), lane]);
  const fwd = lane === 0, h = fwd ? 11 : 10, top = p0[1] - h/2;
  return {type:'group', children:[
    {type:'rect', shape:{x:p0[0]+0.5, y:top+0.5, width:p1[0]-p0[0]-1, height:h-1}, style:{fill:'#fff', stroke: fwd ? '#0000ff' : '#ff0000', lineWidth:1.2}},
    txt(geneNames[i], (p0[0]+p1[0])/2 - 1, top - 6)
  ]};
}

function featItem(params, api) {
  const i = params.dataIndex, lane = api.value(2);
  const p0 = api.coord([api.value(0), lane]), p1 = api.coord([api.value(1), lane]);
  const fwd = lane === 0, h = fwd ? 11 : 10, top = p0[1] - h/2;
  const ch = [{type:'rect', shape:{x:p0[0], y:top, width:p1[0]-p0[0], height:h}, style:{fill:featColors[i]}}];
  if (featNames[i]) ch.push(txt(featNames[i], (p0[0]+p1[0])/2, top + h + 6));
  return {type:'group', children:ch};
}

function flagItem(params, api) {
  const i = params.dataIndex, up = api.value(1) > 0;
  const p = api.coord([api.value(0), 0]);
  const x = p[0], y0 = p[1];
  const tipY = up ? y0 - 22.7 : y0 + 23.3;
  const tri = up ? [[x-0.5,tipY],[x+10,tipY],[x-0.5,tipY+10]] : [[x+0.5,tipY],[x-10,tipY],[x+0.5,tipY-10]];
  return {type:'group', children:[
    {type:'line', shape:{x1:x, y1:y0, x2:x, y2:tipY}, style:{stroke:'#ff0000', lineWidth:1.3}},
    {type:'polygon', shape:{points:tri}, style:{fill:'#ff0000'}},
    txt(flagNames[i], up ? x + 9.5 : x - 10.5, up ? y0 - 17 : y0 + 17.5, up ? 'left' : 'right')
  ]};
}

function dItem(params, api) {
  const i = params.dataIndex, up = api.value(2) > 0;
  const p0 = api.coord([api.value(0), 0]), p1 = api.coord([api.value(1), 0]);
  const y0 = p0[1], top = up ? y0 - 12.7 : y0 + 4.3;
  return {type:'group', children:[
    {type:'rect', shape:{x:p0[0], y:top, width:p1[0]-p0[0], height:9}, style:{fill:'#ff0000'}},
    up ? txt(dNames[i], p0[0] - 1, y0 - 9.3, 'right') : txt(dNames[i], p1[0] + 1, y0 + 8.8, 'left')
  ]};
}

function linkItem(params, api) {
  const up = api.value(1) > 0;
  const p = api.coord([api.value(0), 0]);
  const y0 = p[1];
  return {type:'rect', shape:{x:p[0] - 1.5, y: up ? y0 - 4.5 : y0 + 0.5, width:3, height:4}, style:{fill:'none', stroke:'#ff0000', lineWidth:1.2}};
}

function segItem(params, api) {
  const i = params.dataIndex, up = api.value(2) > 0;
  const p0 = api.coord([api.value(0), 0]), p1 = api.coord([api.value(1), 0]);
  const off = up ? -segOffAbove[segLevel[i]] : segOffBelow[segLevel[i]];
  const y = p0[1] + off;
  return {type:'line', shape:{x1:p0[0], y1:y, x2:p1[0], y2:y}, style:{stroke:segColors[segKind[i]], lineWidth:1.4}};
}

// ---------- grids ----------
const grids = [
  {left:L, right:R, top:38, height:0},          // 0 ruler
  {left:L, right:R, top:51.4, height:41.2},     // 1 genes
  {left:L, right:R, top:134.9, height:103.2},   // 2 boxes
  {left:L, right:R, top:287.3, height:55.4},    // 3 probes
  {left:L, right:R, top:397.3, height:78},      // 4 top strand
  {left:L, right:R, top:474.3, height:78},      // 5 bottom strand
  {left:L, right:R, top:571.3, height:49},      // 6 summary top
  {left:L, right:R, top:627.3, height:77}       // 7 summary bottom
];
const xAxes = [
  {gridIndex:0, type:'value', position:'top', min:regionStart, max:regionEnd, interval:rulerStep,
   axisLine:{show:true, lineStyle:{color:'#000', width:1}},
   axisTick:{show:true, length:3, lineStyle:{color:'#000'}},
   splitLine:{show:false},
   axisLabel:{show:true, margin:14, fontFamily:'DejaVu Sans Mono', fontSize:10, color:'#000',
     alignMinLabel:'left', alignMaxLabel:'right', showMinLabel:true, showMaxLabel:true,
     formatter:v => v === regionStart ? rulerLabels[0] : (v === regionEnd ? rulerLabels[1] : '')}},
  {gridIndex:0, type:'value', position:'bottom', min:regionStart, max:regionEnd, interval:rulerStep,
   axisLine:{show:false}, axisTick:{show:true, length:3, lineStyle:{color:'#000'}},
   splitLine:{show:false}, axisLabel:{show:false}}
];
for (let g = 1; g < 8; g++) xAxes.push({gridIndex:g, type:'value', min:regionStart, max:regionEnd, show:false});
const xi = g => g + 1;
const yAxes = [
  {gridIndex:0, type:'value', show:false},
  {gridIndex:1, type:'category', data:['+','-'], inverse:true, show:false},
  {gridIndex:2, type:'category', data:['+','-'], inverse:true, show:false},
  {gridIndex:3, type:'value', min:-1, max:1, show:false},
  {gridIndex:4, type:'value', min:-4, max:9, show:false},
  {gridIndex:5, type:'value', min:-4, max:9, show:false},
  {gridIndex:6, type:'value', min:-2, max:5, show:false},
  {gridIndex:7, type:'value', min:-3, max:8, show:false}
];

const series = [];
series.push({type:'custom', xAxisIndex:xi(1), yAxisIndex:1, renderItem:geneItem, silent:true, clip:false,
  data: geneNames.map((n,i) => [geneStart[i], geneEnd[i], geneStrand[i] > 0 ? 0 : 1])});
series.push({type:'custom', xAxisIndex:xi(2), yAxisIndex:2, renderItem:boxItem, silent:true, clip:false,
  data: geneNames.map((n,i) => [geneStart[i], geneEnd[i], geneStrand[i] > 0 ? 0 : 1])});
series.push({type:'custom', xAxisIndex:xi(2), yAxisIndex:2, renderItem:featItem, silent:true, clip:false, z:3,
  data: featNames.map((n,i) => [featStart[i], featEnd[i], featStrand[i] > 0 ? 0 : 1])});

// probe track
series.push({type:'line', xAxisIndex:xi(3), yAxisIndex:3, data:[], silent:true,
  markLine:{silent:true, symbol:['none','none'], label:{show:false}, lineStyle:{color:'#000', type:'solid', width:1}, data:[{yAxis:0}]}});
series.push({type:'custom', xAxisIndex:xi(3), yAxisIndex:3, renderItem:segItem, silent:true, clip:false,
  data: segStart.map((s,i) => [s, segEnd[i], segSide[i]])});
series.push({type:'custom', xAxisIndex:xi(3), yAxisIndex:3, renderItem:linkItem, silent:true, clip:false,
  data: linkPos.map((p,i) => [p, linkSide[i]])});
series.push({type:'custom', xAxisIndex:xi(3), yAxisIndex:3, renderItem:flagItem, silent:true, clip:false, z:4,
  data: flagPos.map((p,i) => [p, flagSide[i]])});
series.push({type:'custom', xAxisIndex:xi(3), yAxisIndex:3, renderItem:dItem, silent:true, clip:false, z:4,
  data: dStart.map((s,i) => [s, dEnd[i], dSide[i]])});

function refSeries(g, vals) {
  return {type:'line', xAxisIndex:xi(g), yAxisIndex:g, data:[], silent:true, z:1,
    markLine:{silent:true, symbol:['none','none'], label:{show:false}, animation:false,
      lineStyle:{color:'#000', type:'solid', width:1}, data: vals.map(v => ({yAxis:v}))}};
}
function profSeries(g, arr, color, z) {
  return {type:'line', xAxisIndex:xi(g), yAxisIndex:g, symbol:'none', silent:true, connectNulls:false, z:z,
    lineStyle:{width:1, color:color}, itemStyle:{color:color},
    data: profilePos.map((x,k) => [x, arr[k] === null ? '-' : arr[k]])};
}
series.push(refSeries(4, refLinesStrand));
series.push(refSeries(5, refLinesStrand));
series.push(refSeries(6, refLinesSummary));
series.push(refSeries(7, refLinesSummary));
for (let s = topStrand.length - 1; s >= 0; s--) series.push(profSeries(4, topStrand[s], sampleColors[s], 2));
for (let s = bottomStrand.length - 1; s >= 0; s--) series.push(profSeries(5, bottomStrand[s], sampleColors[s], 2));
for (let s = 0; s < summaryTop.length; s++) series.push(profSeries(6, summaryTop[s], summaryColors[s], 2));
for (let s = 0; s < summaryBottom.length; s++) series.push(profSeries(7, summaryBottom[s], summaryColors[s], 2));

const chart = echarts.init(document.getElementById('c'), null, {renderer:'canvas'});
chart.setOption({animation:false, backgroundColor:'#fff', grid:grids, xAxis:xAxes, yAxis:yAxes, series:series});
</script>
</body></html>
